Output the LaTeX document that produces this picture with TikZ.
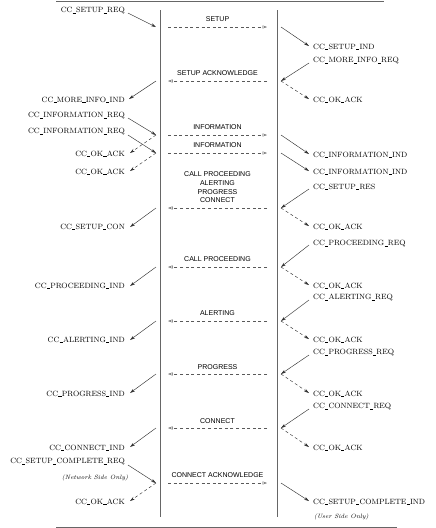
\documentclass[tikz,border=0pt]{standalone}
\usepackage{fontspec}
\newfontfamily\msgfont{Liberation Sans}
\usepackage{tikz}
\usetikzlibrary{arrows.meta,calc}
\newcommand{\bajo}{\kern0.03em\rule[-0.35pt]{0.42em}{0.4pt}\kern0.03em}

\begin{document}
\begin{tikzpicture}[
  x=1pt, y=-1pt,
  prim/.style={font=\fontsize{7.6}{9}\selectfont, inner sep=0pt},
  mensaje/.style={font=\msgfont\fontsize{7}{8.7}\selectfont, align=center, inner sep=0pt},
  nota/.style={font=\itshape\fontsize{6.2}{7}\selectfont, inner sep=0pt},
  flujo/.style={draw=black!65, dash pattern=on 3pt off 2.6pt, line width=0.45pt,
                -{Triangle[open, length=4.5pt, width=3pt]}},
  flecha/.style={draw=black!80, line width=0.45pt, -{Stealth[length=5pt, width=3pt]}},
  confirma/.style={flecha, dash pattern=on 3pt off 2.6pt},
  barra/.style={draw=black!60, line width=0.6pt},
]
  \useasboundingbox (0,0) rectangle (436,528);

  % lineas de borde y entidades
  \draw[barra] (56,1) -- (384,1);
  \draw[barra] (56,527) -- (397,527);
  \draw[barra] (160,10) -- (160,517);
  \draw[barra] (277,10) -- (277,517);

  % puntos de los mensajes
  \foreach \k/\y in {1/27, 2/81, 3/135, 4/153, 5/208, 6/267, 7/321, 8/374, 9/428, 10/483} {
    \coordinate (mL\k) at (168,\y);
    \coordinate (mR\k) at (267,\y);
    \coordinate (pL\k) at (156,\y);
    \coordinate (pR\k) at (281,\y);
  }

  % mensajes entre entidades
  \draw[flujo] (mL1) -- node[mensaje, above=5pt] (tsetup) {SETUP} (mR1);
  \draw[flujo] (mR2) -- node[mensaje, above=5pt] (tsack) {SETUP ACKNOWLEDGE} (mL2);
  \draw[flujo] (mL3) -- node[mensaje, above=5pt] (tinfo1) {INFORMATION} (mR3);
  \draw[flujo] (mL4) -- node[mensaje, above=5pt] (tinfo2) {INFORMATION} (mR4);
  \draw[flujo] (mR5) -- node[mensaje, above=5pt] (tvarios)
    {CALL PROCEEDING\\ALERTING\\PROGRESS\\CONNECT} (mL5);
  \draw[flujo] (mR6) -- node[mensaje, above=5pt] (tproc) {CALL PROCEEDING} (mL6);
  \draw[flujo] (mR7) -- node[mensaje, above=5pt] (talert) {ALERTING} (mL7);
  \draw[flujo] (mR8) -- node[mensaje, above=4pt] (tprog) {PROGRESS} (mL8);
  \draw[flujo] (mR9) -- node[mensaje, above=4pt] (tconn) {CONNECT} (mL9);
  \draw[flujo] (mL10) -- node[mensaje, above=5pt] (tcack) {CONNECT ACKNOWLEDGE} (mR10);

  % primitivas lado izquierdo
  \node[prim, anchor=east] (sreq)  at (125,11)  {CC\bajo SETUP\bajo REQ};
  \node[prim, anchor=east] (mii)   at (125,100) {CC\bajo MORE\bajo INFO\bajo IND};
  \node[prim, anchor=east] (ireq1) at (125,116) {CC\bajo INFORMATION\bajo REQ};
  \node[prim, anchor=east] (ireq2) at (125,132) {CC\bajo INFORMATION\bajo REQ};
  \node[prim, anchor=east] (okL1)  at (125,154) {CC\bajo OK\bajo ACK};
  \node[prim, anchor=east] (okL2)  at (125,172) {CC\bajo OK\bajo ACK};
  \node[prim, anchor=east] (scon)  at (125,227) {CC\bajo SETUP\bajo CON};
  \node[prim, anchor=east] (pind)  at (125,286) {CC\bajo PROCEEDING\bajo IND};
  \node[prim, anchor=east] (aind)  at (125,340) {CC\bajo ALERTING\bajo IND};
  \node[prim, anchor=east] (gind)  at (125,394) {CC\bajo PROGRESS\bajo IND};
  \node[prim, anchor=east] (cind)  at (125,448) {CC\bajo CONNECT\bajo IND};
  \node[prim, anchor=east] (screq) at (125,462) {CC\bajo SETUP\bajo COMPLETE\bajo REQ};
  \node[nota] (red) at (95,478) {(Network Side Only)};
  \node[prim, anchor=east] (okL3)  at (125,502) {CC\bajo OK\bajo ACK};

  % primitivas lado derecho
  \node[prim, anchor=west] (sind)  at (313,47)  {CC\bajo SETUP\bajo IND};
  \node[prim, anchor=west] (mreq)  at (313,61)  {CC\bajo MORE\bajo INFO\bajo REQ};
  \node[prim, anchor=west] (okR1)  at (313,100) {CC\bajo OK\bajo ACK};
  \node[prim, anchor=west] (iind1) at (313,155) {CC\bajo INFORMATION\bajo IND};
  \node[prim, anchor=west] (iind2) at (313,172) {CC\bajo INFORMATION\bajo IND};
  \node[prim, anchor=west] (sres)  at (313,187) {CC\bajo SETUP\bajo RES};
  \node[prim, anchor=west] (okR2)  at (313,227) {CC\bajo OK\bajo ACK};
  \node[prim, anchor=west] (preq)  at (313,244) {CC\bajo PROCEEDING\bajo REQ};
  \node[prim, anchor=west] (okR3)  at (313,286) {CC\bajo OK\bajo ACK};
  \node[prim, anchor=west] (areq)  at (313,298) {CC\bajo ALERTING\bajo REQ};
  \node[prim, anchor=west] (okR4)  at (313,340) {CC\bajo OK\bajo ACK};
  \node[prim, anchor=west] (greq)  at (313,353) {CC\bajo PROGRESS\bajo REQ};
  \node[prim, anchor=west] (okR5)  at (313,394) {CC\bajo OK\bajo ACK};
  \node[prim, anchor=west] (creq)  at (313,407) {CC\bajo CONNECT\bajo REQ};
  \node[prim, anchor=west] (okR6)  at (313,448) {CC\bajo OK\bajo ACK};
  \node[prim, anchor=west] (scind) at (313,502) {CC\bajo SETUP\bajo COMPLETE\bajo IND};
  \node[nota, anchor=west] (usu) at (314,517) {(User Side Only)};

  % flechas lado izquierdo
  \draw[flecha] ($(sreq.east)+(3,2)$) -- (pL1);
  \draw[flecha] (pL2) -- ($(mii.east)+(4,-1)$);
  \draw[flecha] ($(ireq1.east)+(3,2)$) -- (pL3);
  \draw[flecha] ($(ireq2.east)+(3,3)$) -- (pL4);
  \draw[confirma] (pL3) -- ($(okL1.east)+(5,-1)$);
  \draw[confirma] (pL4) -- ($(okL2.east)+(5,-1)$);
  \draw[flecha] (pL5) -- ($(scon.east)+(5,0)$);
  \draw[flecha] (pL6) -- ($(pind.east)+(5,0)$);
  \draw[flecha] (pL7) -- ($(aind.east)+(5,0)$);
  \draw[flecha] (pL8) -- ($(gind.east)+(5,-1)$);
  \draw[flecha] (pL9) -- ($(cind.east)+(5,-1)$);
  \draw[flecha] ($(screq.east)+(3,3)$) -- (pL10);
  \draw[confirma] (pL10) -- ($(okL3.east)+(5,-1)$);

  % flechas lado derecho
  \draw[flecha] (pR1) -- ($(sind.west)+(-4,-1)$);
  \draw[flecha] ($(mreq.west)+(-4,2)$) -- (pR2);
  \draw[confirma] (pR2) -- ($(okR1.west)+(-4,-1)$);
  \draw[flecha] (pR3) -- ($(iind1.west)+(-4,-1)$);
  \draw[flecha] (pR4) -- ($(iind2.west)+(-4,-1)$);
  \draw[flecha] ($(sres.west)+(-4,2)$) -- (pR5);
  \draw[confirma] (pR5) -- ($(okR2.west)+(-4,-1)$);
  \draw[flecha] ($(preq.west)+(-4,1)$) -- (pR6);
  \draw[confirma] (pR6) -- ($(okR3.west)+(-4,-1)$);
  \draw[flecha] ($(areq.west)+(-4,2)$) -- (pR7);
  \draw[confirma] (pR7) -- ($(okR4.west)+(-4,-1)$);
  \draw[flecha] ($(greq.west)+(-4,2)$) -- (pR8);
  \draw[confirma] (pR8) -- ($(okR5.west)+(-4,-1)$);
  \draw[flecha] ($(creq.west)+(-4,2)$) -- (pR9);
  \draw[confirma] (pR9) -- ($(okR6.west)+(-4,-1)$);
  \draw[flecha] (pR10) -- ($(scind.west)+(-4,-1)$);
\end{tikzpicture}
\end{document}
